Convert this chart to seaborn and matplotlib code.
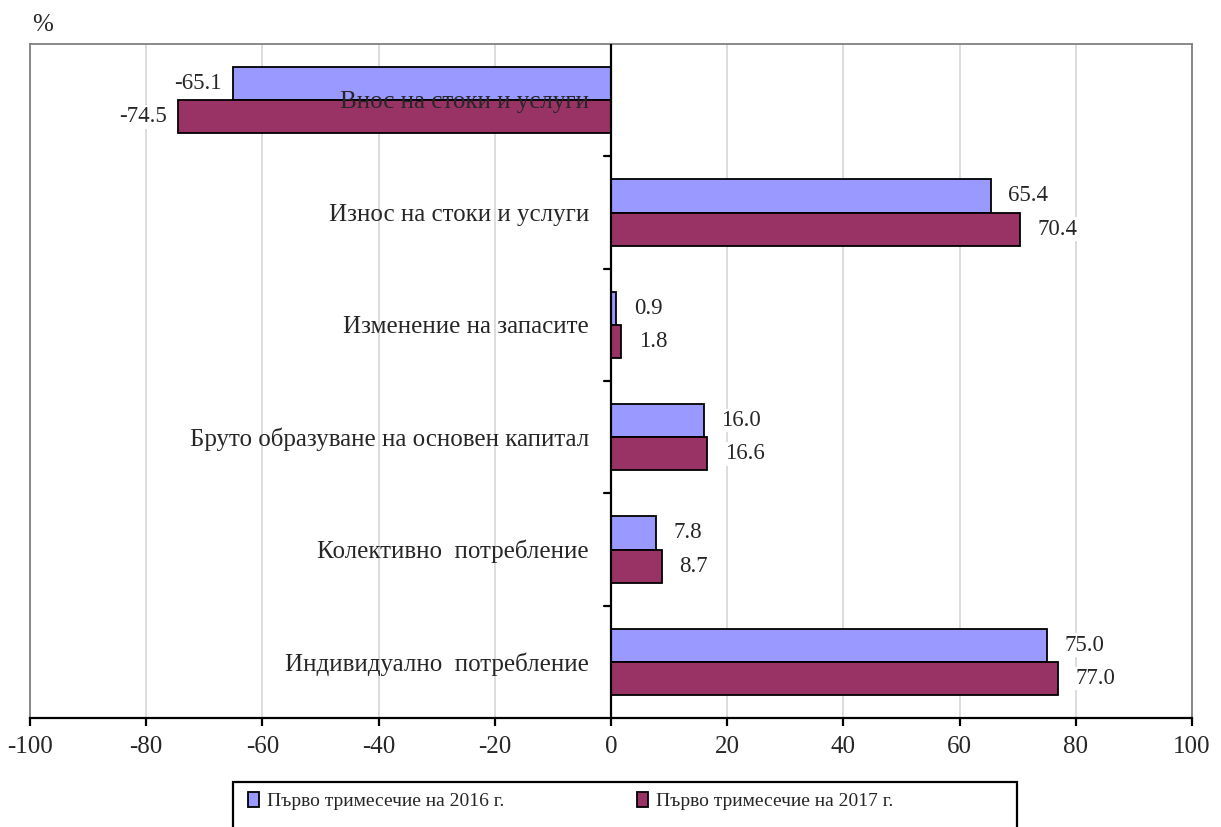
import matplotlib
matplotlib.use("Agg")
import matplotlib.pyplot as plt
import seaborn as sns
import pandas as pd
from matplotlib.patches import Patch, Rectangle

categories = ["Внос на стоки и услуги", "Износ на стоки и услуги", "Изменение на запасите",
              "Бруто образуване на основен капитал", "Колективно  потребление",
              "Индивидуално  потребление"]
series = ["Първо тримесечие на 2016 г.", "Първо тримесечие на 2017 г."]
values_2016 = [-65.1, 65.4, 0.9, 16.0, 7.8, 75.0]
values_2017 = [-74.5, 70.4, 1.8, 16.6, 8.7, 77.0]
xticks = [-100, -80, -60, -40, -20, 0, 20, 40, 60, 80, 100]
colors = ["#9999FF", "#993366"]

df = pd.DataFrame({
    "cat": categories * 2,
    "series": [series[0]] * len(categories) + [series[1]] * len(categories),
    "val": values_2016 + values_2017,
})

sns.set_style("white")
plt.rcParams["font.family"] = ["Liberation Serif", "DejaVu Serif"]

W, H = 1221, 827
fig = plt.figure(figsize=(W / 100, H / 100), dpi=100)
ax = fig.add_axes([30 / W, 1 - 718 / H, (1192 - 30) / W, (718 - 44) / H])

sns.barplot(data=df, y="cat", x="val", hue="series", order=categories, hue_order=series,
            palette=colors, orient="h", width=0.59, edgecolor="black", linewidth=1.3,
            saturation=1, legend=False, ax=ax, zorder=3)

ax.set_xlim(-100, 100)
ax.set_ylim(len(categories) - 0.5, -0.5)
ax.set_xticks(xticks)
ax.set_xticklabels([str(t) for t in xticks], fontsize=18)
ax.set_yticks([])
ax.set_xlabel("")
ax.set_ylabel("")
ax.grid(axis="x", color="#d9d9d9", linewidth=1.3, zorder=0)
ax.set_axisbelow(True)
for s in ["left", "top", "right"]:
    ax.spines[s].set_color("#808080")
    ax.spines[s].set_linewidth(1.3)
ax.spines["bottom"].set_color("black")
ax.spines["bottom"].set_linewidth(1.6)
ax.tick_params(axis="x", direction="out", length=6, width=1.6, color="black", pad=7, bottom=True)

# zero line with tick marks at category boundaries
ax.axvline(0, color="black", linewidth=1.6, zorder=4)
for i in range(len(categories) - 1):
    ax.plot([-1.2, 0], [i + 0.5, i + 0.5], color="black", linewidth=1.6, zorder=4)

# value labels
for container, vals in zip(ax.containers, [values_2016, values_2017]):
    for bar, v in zip(container, vals):
        y = bar.get_y() + bar.get_height() / 2
        if v >= 0:
            ax.text(v + 3.0, y, f"{v:.1f}", ha="left", va="center", fontsize=16.5, zorder=5,
                    bbox=dict(facecolor="white", edgecolor="none", pad=1))
        else:
            ax.text(v - 2.0, y, f"{v:.1f}", ha="right", va="center", fontsize=16.5, zorder=5,
                    bbox=dict(facecolor="white", edgecolor="none", pad=1))

# category labels
for i, c in enumerate(categories):
    ax.text(-3.8, i + 0.02, c, ha="right", va="center", fontsize=18, zorder=6)

fig.text(32 / W, 1 - 25 / H, "%", fontsize=18, ha="left", va="center")

# legend box (extends past the bottom of the figure)
fig.patches.append(Rectangle((233 / W, -0.05), (1017 - 233) / W, (1 - 782 / H) + 0.05,
                             transform=fig.transFigure, facecolor="white", edgecolor="black",
                             linewidth=1.6, zorder=0))
handles = [Patch(facecolor=colors[0], edgecolor="black", linewidth=1.3),
           Patch(facecolor=colors[1], edgecolor="black", linewidth=1.3)]
leg = fig.legend(handles, series, loc="center left", bbox_to_anchor=(248 / W, 1 - 801 / H),
                 ncol=2, frameon=False, fontsize=14, handlelength=0.55, handleheight=0.85,
                 handletextpad=0.45, columnspacing=6.8, borderpad=0, borderaxespad=0)

fig.savefig("out.png", dpi=100)
